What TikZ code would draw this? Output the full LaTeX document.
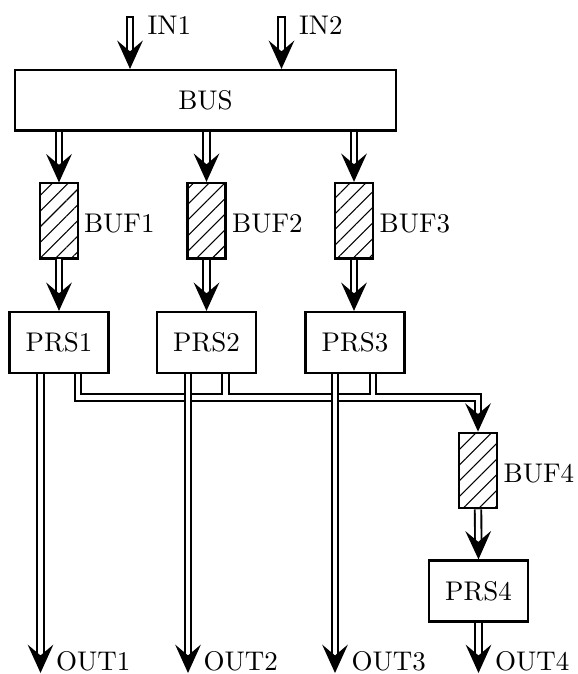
\documentclass[tikz,border=0pt]{standalone}
\usetikzlibrary{arrows.meta,patterns.meta,calc}
\tikzset{
  box/.style={draw, line width=0.8pt, inner sep=0pt, minimum width=36.7pt, minimum height=22.6pt},
  bufbox/.style={draw, line width=0.8pt, inner sep=0pt, minimum width=14.1pt, minimum height=28pt,
    pattern={Lines[angle=45,distance=4.1pt,line width=0.4pt]}},
  dbl/.style={double, double distance=1.7pt, line width=0.7pt},
  arr/.style={-{Stealth[length=10.5pt,width=9.5pt,inset=4pt]}},
  capline/.style={line width=0.7pt},
  lbl/.style={anchor=base west, inner sep=0pt},
}
\begin{document}
\begin{tikzpicture}[x=0.3704pt,y=-0.3704pt]
\useasboundingbox (0,0) rectangle (577,674);
% nodes
\node[box, minimum width=141.1pt, minimum height=22.4pt] (bus) at (205.5,100.25) {BUS};
\node[bufbox] (buf1) at (59,220.75) {};
\node[bufbox] (buf2) at (206.5,220.75) {};
\node[bufbox] (buf3) at (354,220.75) {};
\node[bufbox] (buf4) at (478,470.5) {};
\node[box] (prs1) at (59,342.5) {PRS1};
\node[box] (prs2) at (206.5,342.5) {PRS2};
\node[box] (prs3) at (355,342.5) {PRS3};
\node[box] (prs4) at (478.5,591) {PRS4};
% labels
\node[lbl] (in1l) at (147,35) {IN1};
\node[lbl] (in2l) at (298.5,35) {IN2};
\node[lbl] (b1l) at ($(buf1.east)+(5,11.75)$) {BUF1};
\node[lbl] (b2l) at ($(buf2.east)+(5,11.75)$) {BUF2};
\node[lbl] (b3l) at ($(buf3.east)+(5,11.75)$) {BUF3};
\node[lbl] (b4l) at ($(buf4.east)+(5,11.75)$) {BUF4};
% coordinates
\coordinate (in1) at (130,17);
\coordinate (in2) at (281.5,17);
\coordinate (bot) at (0,673);
\coordinate (turn) at (478,397.5);
\path (prs1.south) ++(-18.5,0) coordinate (a1) ++(37.5,0) coordinate (s1);
\path (prs2.south) ++(-18.5,0) coordinate (a2) ++(37.5,0) coordinate (s2);
\path (prs3.south) ++(-20,0) coordinate (a3) ++(38,0) coordinate (s3);
\node[lbl] (o1l) at ($(a1 |- bot)+(15,-3)$) {OUT1};
\node[lbl] (o2l) at ($(a2 |- bot)+(15,-3)$) {OUT2};
\node[lbl] (o3l) at ($(a3 |- bot)+(16,-3)$) {OUT3};
\node[lbl] (o4l) at ($(prs4.south |- bot)+(16,-3)$) {OUT4};
% inputs
\draw[dbl,arr] (in1) -- (in1 |- bus.north);
\draw[dbl,arr] (in2) -- (in2 |- bus.north);
\draw[capline] ([xshift=-1.55pt]in1) -- ([xshift=1.55pt]in1);
\draw[capline] ([xshift=-1.55pt]in2) -- ([xshift=1.55pt]in2);
% bus to buffers
\draw[dbl,arr] (bus.south -| buf1.north) -- (buf1.north);
\draw[dbl,arr] (bus.south -| buf2.north) -- (buf2.north);
\draw[dbl,arr] (bus.south -| buf3.north) -- (buf3.north);
% buffers to parsers
\draw[dbl,arr] (buf1.south) -- (buf1.south |- prs1.north);
\draw[dbl,arr] (buf2.south) -- (buf2.south |- prs2.north);
\draw[dbl,arr] (buf3.south) -- (buf3.south |- prs3.north);
% merged side paths to buf4
\draw[dbl,arr] (s1) |- (turn) (s2) |- (turn) (s3) |- (turn) -- (buf4.north);
% outputs
\draw[dbl,arr] (a1) -- (a1 |- bot);
\draw[dbl,arr] (a2) -- (a2 |- bot);
\draw[dbl,arr] (a3) -- (a3 |- bot);
\draw[dbl,arr] (buf4.south) -- (prs4.north);
\draw[dbl,arr] (prs4.south) -- (prs4.south |- bot);
\end{tikzpicture}
\end{document}
